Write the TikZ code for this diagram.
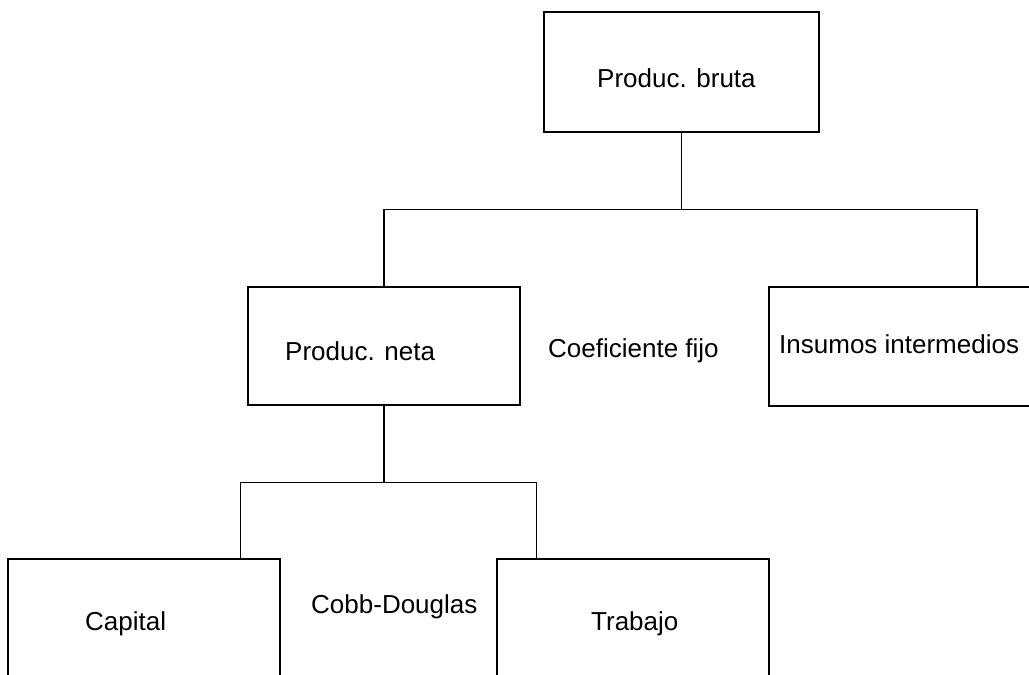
\documentclass[tikz,border=0pt]{standalone}
\usepackage{fontspec}
\setmainfont{Liberation Sans}
\usetikzlibrary{calc}
\tikzset{
  box/.style={draw=black, line width=1.4pt, rectangle, inner sep=0pt, fill=none},
  link/.style={draw=black, line width=1.4pt},
  lbl/.style={anchor=base west, inner sep=0pt, font=\fontsize{26}{30}\selectfont}
}
\begin{document}
\begin{tikzpicture}[x=1pt,y=-1pt]
\useasboundingbox (0,0) rectangle (1029,675);
\clip (0,0) rectangle (1029,675);
\fill[white] (0,0) rectangle (1029,675);
% boxes
\node[box, minimum width=275pt, minimum height=120pt] (bruta) at (681.5,72) {};
\node[box, minimum width=272pt, minimum height=118pt] (neta) at (384,346) {};
\node[box, minimum width=416pt, minimum height=119pt] (insumos) at (977,346.5) {};
\node[box, minimum width=272pt, minimum height=140pt] (capital) at (144,629) {};
\node[box, minimum width=272pt, minimum height=140pt] (trabajo) at (633,629) {};
% texts
\node[lbl] (tbruta) at (597,87) {Produc. bruta};
\node[lbl] (tneta) at (285,360) {Produc. neta};
\node[lbl] (tcoef) at (548,357) {Coeficiente fijo};
\node[lbl] (tinsumos) at (779,353) {Insumos intermedios};
\node[lbl] (tcapital) at (85,630) {Capital};
\node[lbl] (tcobb) at (311,613) {Cobb-Douglas};
\node[lbl] (ttrabajo) at (591,630) {Trabajo};
% connectors
\coordinate (j1) at ($(bruta.south)+(0,77)$);
\draw[link] (bruta.south) -- (j1);
\draw[link] (neta.north) |- (j1) -| (insumos.north);
\coordinate (j2) at ($(neta.south)+(0,77)$);
\coordinate (capTop) at ($(capital.north west)+(233,0)$);
\coordinate (trabTop) at ($(trabajo.north west)+(40,0)$);
\draw[link] (neta.south) -- (j2);
\draw[link] (capTop) |- (j2) -| (trabTop);
\end{tikzpicture}
\end{document}
